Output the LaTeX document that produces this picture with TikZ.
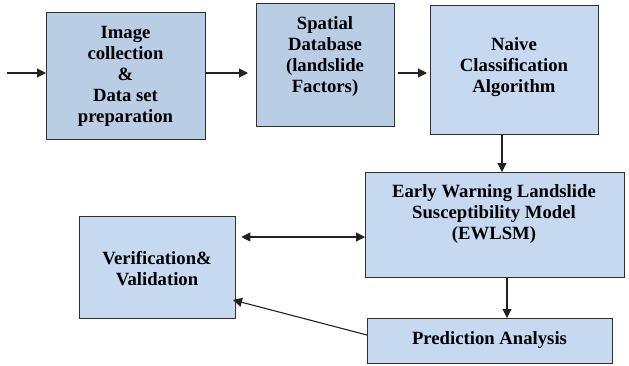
\documentclass[tikz,border=0pt]{standalone}
\usepackage{fontspec}
\setmainfont{Liberation Serif}
\usetikzlibrary{arrows.meta}
\definecolor{boxdark}{HTML}{B9CDE5}
\definecolor{boxlight}{HTML}{C6D9F1}
\definecolor{edge}{HTML}{303030}
\definecolor{wire}{HTML}{222222}
\tikzset{
  stage/.style={draw=edge, line width=1.3pt, inner sep=0pt, anchor=north west},
  caption/.style={align=center, font=\bfseries\fontsize{18.7}{21}\selectfont, inner sep=0pt},
  flow/.style={draw=wire, line width=1.1pt, -{Triangle[length=9pt,width=9pt]}},
  twoway/.style={draw=wire, line width=1.1pt, {Triangle[length=9pt,width=9pt]}-{Triangle[length=9pt,width=9pt]}},
}
\begin{document}
\begin{tikzpicture}[x=1pt, y=-1pt]
\useasboundingbox (0,0) rectangle (629,365);

% process boxes
\node[stage, fill=boxdark, minimum width=159pt, minimum height=127pt] (img) at (46,12) {};
\node[stage, fill=boxdark, minimum width=138pt, minimum height=123pt] (db) at (256,3) {};
\node[stage, fill=boxlight, minimum width=168pt, minimum height=129pt] (nb) at (430,5) {};
\node[stage, fill=boxlight, minimum width=259pt, minimum height=105pt] (ew) at (365,172) {};
\node[stage, fill=boxlight, minimum width=245pt, minimum height=45pt] (pa) at (367,318) {};
\node[stage, fill=boxlight, minimum width=156pt, minimum height=102pt] (vv) at (79,216) {};

% box texts
\node[caption] (timg) at (125.5,76) {Image\\collection\\\&\\Data set\\preparation};
\node[caption] (tdb) at (325,56) {Spatial\\Database\\(landslide\\Factors)};
\node[caption] (tnb) at (514,67) {Naive\\Classification\\Algorithm};
\node[caption] (tew) at (494,214) {Early Warning Landslide\\Susceptibility Model\\(EWLSM)};
\node[caption] (tpa) at (489.5,340) {Prediction Analysis};
\node[caption] (tvv) at (157,269) {Verification\&\\Validation};

% connectors
\coordinate (in) at (7,73);
\draw[flow] (in) -- (img.west |- in);
\draw[flow, shorten >=8pt] (img.east |- in) -- (db.west |- in);
\draw[flow, shorten <=3pt, shorten >=3pt] (db.east |- in) -- (nb.west |- in);
\draw[flow] (nb.south -| 502,0) -- (ew.north -| 502,0);
\draw[flow] (ew.south -| 507,0) -- (pa.north -| 507,0);
\draw[twoway, shorten <=5pt] (vv.east |- 0,237) -- (ew.west |- 0,237);
\draw[flow] (pa.west |- 0,335) -- (233,300);
\end{tikzpicture}
\end{document}
